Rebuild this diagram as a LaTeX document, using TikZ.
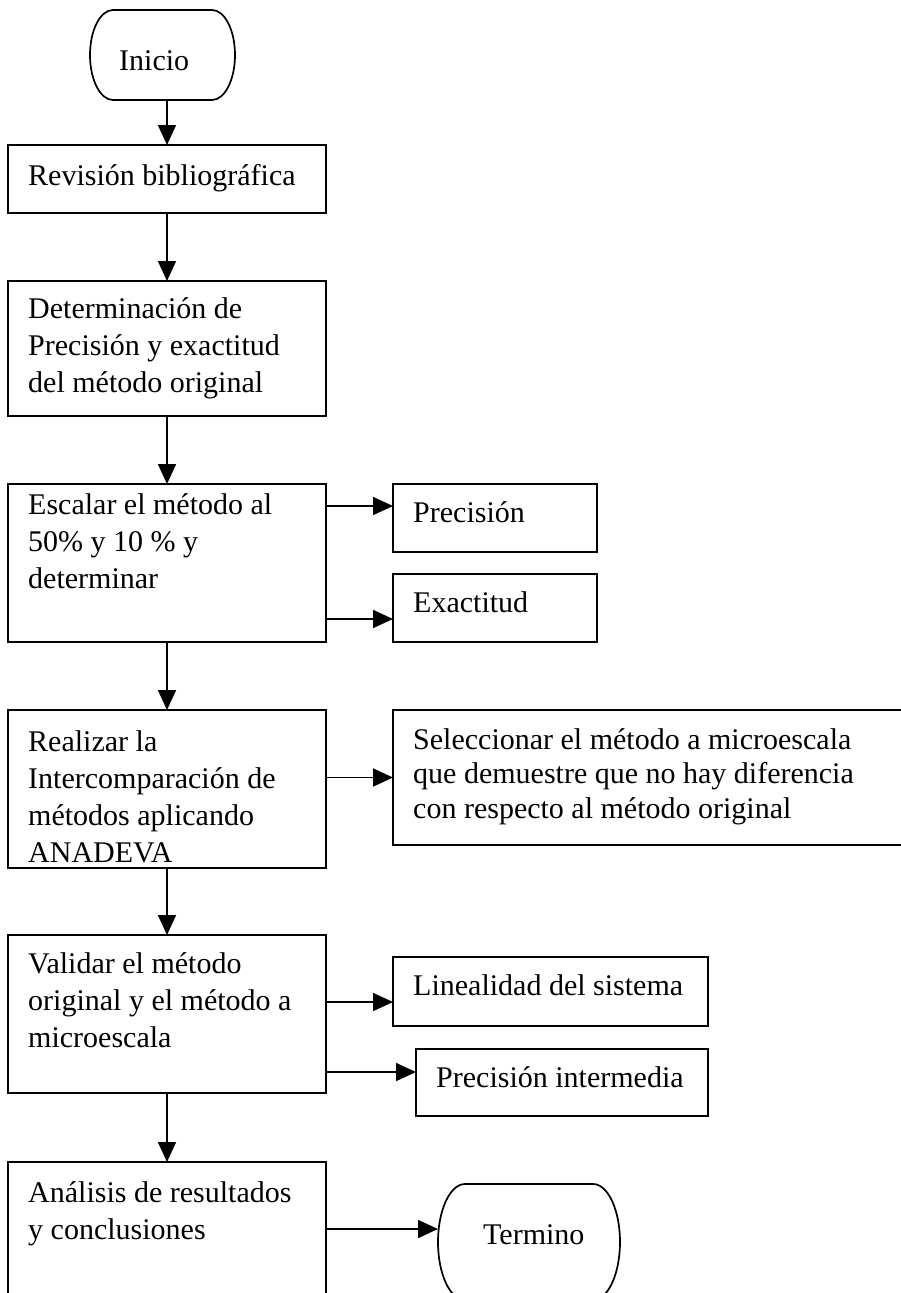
\documentclass[tikz,border=0pt]{standalone}
\usepackage{fontspec}
\setmainfont{Liberation Serif}
\usetikzlibrary{arrows.meta}
\newcommand\tope{\rule{0pt}{24pt}}
\tikzset{
  caja/.style={draw,line width=1.7pt,inner sep=0pt,outer sep=0pt,
               anchor=north west},
  texto/.style={anchor=north west,inner sep=0pt,align=left,
                font=\fontsize{30}{37}\selectfont},
  borde/.style={line width=1.7pt},
  flecha/.style={-{Triangle[length=20pt,width=18pt]},line width=1.7pt},
}

\begin{document}
\begin{tikzpicture}[x=1pt,y=-1pt]
  \useasboundingbox (0,0) rectangle (900,1293);
  % cajas: nombre/izq/arriba/der/abajo/linea base/texto
  \foreach \nom/\xa/\ya/\xb/\yb/\bl/\txt in {%
    rev/8/145/326/213/185/{Revisión bibliográfica},%
    det/8/281/326/416/318/{Determinación de\\Precisión y exactitud\\del método original},%
    esc/8/484/326/642/514/{Escalar el método al\\50\% y 10 \% y\\determinar},%
    rea/8/710/326/868/751/{Realizar la\\Intercomparación de\\métodos aplicando\\ANADEVA},%
    val/8/935/326/1093/973/{Validar el método\\original y el método a\\microescala},%
    ana/8/1162/326/1310/1202/{Análisis de resultados\\y conclusiones},%
    prec/393/484/597/552/522/{Precisión},%
    exac/393/574/597/642/612/{Exactitud},%
    lin/393/957/708/1026/995/{Linealidad del sistema},%
    pint/416/1049/708/1116/1087/{Precisión intermedia}%
  }{%
    \node[caja,minimum width={(\xb-\xa)*1pt},minimum height={(\yb-\ya)*1pt}]
      (\nom) at (\xa,\ya) {};
    \node[texto] (\nom-t) at ({\xa+20},{\bl-24}) {\tope\txt};
  }
  % caja ancha de la derecha
  \node[caja,minimum width=512pt,minimum height=135pt] (sel) at (393,710) {};
  \node[texto,font=\fontsize{30}{34.5}\selectfont] (sel-t) at (413,725)
    {\tope Seleccionar el método a microescala\\que demuestre que no hay diferencia\\con respecto al método original};

  % terminales
  \node[caja,draw=none,minimum width=145pt,minimum height=90pt] (ini) at (90,10) {};
  \draw[borde] ([xshift=23pt]ini.north west) -- ([xshift=-23pt]ini.north east)
    arc[start angle=90,end angle=-90,x radius=23pt,y radius=45pt]
    -- ([xshift=23pt]ini.south west)
    arc[start angle=270,end angle=90,x radius=23pt,y radius=45pt] -- cycle;
  \node[texto] (ini-t) at (119,46) {\tope Inicio};

  \node[caja,draw=none,minimum width=182pt,minimum height=116pt] (ter) at (438,1184) {};
  \draw[borde] ([xshift=27pt]ter.north west) -- ([xshift=-27pt]ter.north east)
    arc[start angle=90,end angle=-90,x radius=27pt,y radius=58pt]
    -- ([xshift=27pt]ter.south west)
    arc[start angle=270,end angle=90,x radius=27pt,y radius=58pt] -- cycle;
  \node[texto] (ter-t) at (483,1220) {\tope Termino};

  % flechas verticales
  \foreach \a/\b in {ini/rev,rev/det,det/esc,esc/rea,rea/val,val/ana}
    \draw[flecha] (\b.north |- \a.south) -- (\b.north);

  % flechas laterales
  \foreach \a/\b/\d in {esc/prec/12,esc/exac/-11,rea/sel/0,val/lin/-10.5,
                        val/pint/10.5,ana/ter/13}{
    \coordinate (c-\b) at ([yshift=\d pt]\b.west);
    \draw[flecha] (\a.east |- c-\b) -- (c-\b);
  }
\end{tikzpicture}
\end{document}
